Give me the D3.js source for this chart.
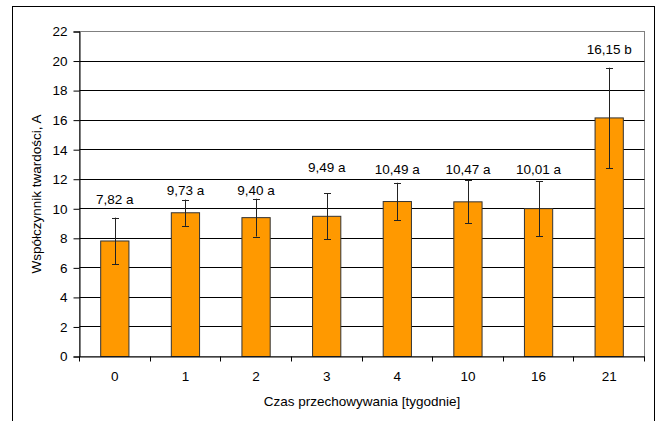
<!DOCTYPE html>
<html>
<head>
<meta charset="utf-8">
<script src="https://cdn.jsdelivr.net/npm/d3@7"></script>
<style>
  html, body { margin: 0; padding: 0; background: #fff; }
  svg { display: block; }
  text { font-family: "Liberation Sans", Arial, sans-serif; fill: #000; }
</style>
</head>
<body>
<svg id="chart" width="662" height="421"></svg>
<script>
// ---- data ----
const categories = ["0", "1", "2", "3", "4", "10", "16", "21"];
const means = [7.82, 9.73, 9.40, 9.49, 10.49, 10.47, 10.01, 16.15];
const errors = [1.58, 0.89, 1.28, 1.55, 1.27, 1.45, 1.85, 3.40];
const groups = ["a", "a", "a", "a", "a", "a", "a", "b"];
const labelAt = [10.65, 11.27, 11.27, 12.81, 12.68, 12.68, 12.68, 20.77];
const yTicks = [0, 2, 4, 6, 8, 10, 12, 14, 16, 18, 20, 22];
const xTitle = "Czas przechowywania [tygodnie]";
const yTitle = "Współczynnik twardości, A";

// ---- layout ----
const svg = d3.select("#chart");
const pL = 79.5, pR = 644.5, pT = 31.5, pB = 356.5;

const x = d3.scaleBand().domain(categories).range([pL, pR]).padding(0);
const y = d3.scaleLinear().domain([0, 22]).range([pB, pT]);
const barW = x.bandwidth() * 0.4;
const fmt = v => d3.format(".2f")(v).replace(".", ",");

// outer frame
svg.append("rect")
  .attr("x", 12.5).attr("y", 6.5).attr("width", 642).attr("height", 430)
  .attr("fill", "none").attr("stroke", "#000").attr("stroke-width", 1);

// plot area border (grey)
svg.append("rect")
  .attr("x", pL).attr("y", pT).attr("width", pR - pL).attr("height", pB - pT)
  .attr("fill", "#fff").attr("stroke", "#808080").attr("stroke-width", 1);

// gridlines
svg.append("g").selectAll("line")
  .data(yTicks.filter(t => t > 0 && t < 22))
  .join("line")
  .attr("x1", pL).attr("x2", pR)
  .attr("y1", d => Math.round(y(d) - 0.5) + 0.5)
  .attr("y2", d => Math.round(y(d) - 0.5) + 0.5)
  .attr("stroke", "#000").attr("stroke-width", 1);

const data = categories.map((c, i) => ({ c, m: means[i], e: errors[i], g: groups[i], l: labelAt[i] }));

// bars
svg.append("g").selectAll("rect")
  .data(data)
  .join("rect")
  .attr("x", d => x(d.c) + x.bandwidth() / 2 - barW / 2)
  .attr("y", d => y(d.m))
  .attr("width", barW)
  .attr("height", d => pB - y(d.m))
  .attr("fill", "#FF9900")
  .attr("stroke", "#333")
  .attr("stroke-width", 1);

// error bars
const eb = svg.append("g").attr("stroke", "#222").attr("stroke-width", 1);
data.forEach(d => {
  const cx = Math.round(x(d.c) + x.bandwidth() / 2) + 0.5;
  const y1 = y(d.m + d.e), y2 = y(d.m - d.e);
  eb.append("line").attr("x1", cx).attr("x2", cx).attr("y1", y1).attr("y2", y2);
  eb.append("line").attr("x1", cx - 3.5).attr("x2", cx + 3.5).attr("y1", Math.round(y1) + 0.5).attr("y2", Math.round(y1) + 0.5);
  eb.append("line").attr("x1", cx - 3.5).attr("x2", cx + 3.5).attr("y1", Math.round(y2) + 0.5).attr("y2", Math.round(y2) + 0.5);
});

// value labels
svg.append("g").selectAll("text")
  .data(data)
  .join("text")
  .attr("x", d => x(d.c) + x.bandwidth() / 2)
  .attr("y", d => y(d.l))
  .attr("dy", "0.35em")
  .attr("text-anchor", "middle")
  .attr("font-size", 13.5)
  .text(d => fmt(d.m) + " " + d.g);

// y axis
const yAxis = svg.append("g")
  .attr("transform", `translate(${pL},0)`)
  .call(d3.axisLeft(y).tickValues(yTicks).tickSize(6).tickPadding(6).tickFormat(d3.format("d")));
yAxis.select(".domain").attr("stroke", "#000");
yAxis.selectAll(".tick line").attr("stroke", "#000");
yAxis.selectAll(".tick text").attr("font-size", 13.5).attr("font-family", "Liberation Sans, Arial, sans-serif").attr("fill", "#000");

// x axis
const xAxis = svg.append("g")
  .attr("transform", `translate(0,${pB})`)
  .call(d3.axisBottom(x).tickSize(0).tickPadding(15));
xAxis.select(".domain").attr("stroke", "#000");
xAxis.selectAll(".tick text").attr("font-size", 13.5).attr("font-family", "Liberation Sans, Arial, sans-serif").attr("fill", "#000");
// category boundary ticks
svg.append("g").selectAll("line")
  .data(categories.map(c => x(c)).concat([pR]))
  .join("line")
  .attr("x1", d => Math.round(d - 0.5) + 0.5).attr("x2", d => Math.round(d - 0.5) + 0.5)
  .attr("y1", pB).attr("y2", pB + 5)
  .attr("stroke", "#000");

// axis titles
svg.append("text")
  .attr("x", (pL + pR) / 2).attr("y", 401)
  .attr("dy", "0.35em")
  .attr("text-anchor", "middle")
  .attr("font-size", 13.5)
  .text(xTitle);

svg.append("text")
  .attr("transform", `translate(36,${(pT + pB) / 2}) rotate(-90)`)
  .attr("dy", "0.35em")
  .attr("text-anchor", "middle")
  .attr("font-size", 13.5)
  .text(yTitle);
</script>
</body>
</html>
